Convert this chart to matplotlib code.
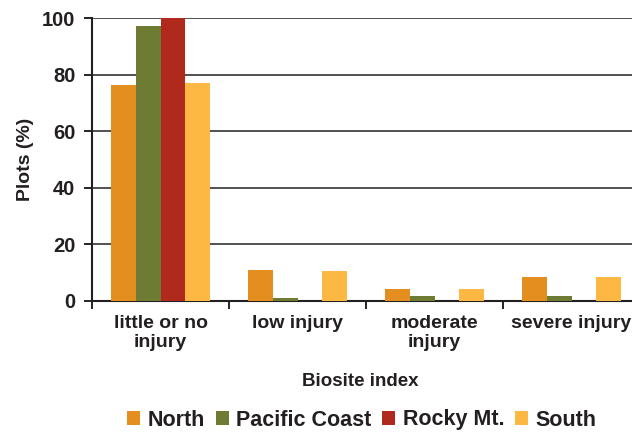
import matplotlib.pyplot as plt
import matplotlib.transforms as mtransforms
import numpy as np

plt.rcParams['font.family'] = ['Liberation Sans', 'DejaVu Sans']
plt.rcParams['font.weight'] = 'bold'

categories = ['little or no\ninjury', 'low injury', 'moderate\ninjury', 'severe injury']
regions = ['North', 'Pacific Coast', 'Rocky Mt.', 'South']
north = [76.3, 11.0, 4.2, 8.5]
pacific = [97.2, 1.0, 1.9, 1.9]
rocky = [100.0, 0.0, 0.0, 0.0]
south = [77.0, 10.6, 4.2, 8.5]
colors = ['#E38E1E', '#6E7B32', '#B0291D', '#FDB844']

fig = plt.figure(figsize=(6.32, 4.32), dpi=100)
ax = fig.add_axes([92 / 632, 1 - 301 / 432, 548 / 632, 283 / 432])

x = np.arange(len(categories))
w = 0.182
for i, (vals, lab) in enumerate(zip([north, pacific, rocky, south], regions)):
    ax.bar(x + (i - 1.5) * w, vals, w, color=colors[i], label=lab, zorder=3)

ax.set_ylim(0, 100)
ax.set_xlim(-0.5, 3.5)
ax.set_yticks([0, 20, 40, 60, 80, 100])
ax.yaxis.grid(True, color='#333333', linewidth=1.2, zorder=0)
ax.set_xticks(x)
ax.set_xticklabels(categories, fontsize=14, fontweight='bold', color='#231F20', linespacing=1.15)
# labels sit a bit left of the category centres in the original
shift = mtransforms.ScaledTranslation(-4 / 100, 0, fig.dpi_scale_trans)
for t in ax.get_xticklabels():
    t.set_transform(t.get_transform() + shift)
ax.set_xticks([-0.5, 0.5, 1.5, 2.5], minor=True)
ax.tick_params(axis='x', which='major', length=0, pad=10)
ax.tick_params(axis='x', which='minor', length=6, width=1.2, direction='out')
ax.tick_params(axis='y', length=6, width=1.2, labelsize=14.5, labelcolor='#231F20', pad=6)
for t in ax.get_yticklabels():
    t.set_fontweight('bold')

for s in ['top', 'right']:
    ax.spines[s].set_visible(False)
ax.spines['left'].set_linewidth(1.5)
ax.spines['bottom'].set_linewidth(1.5)
ax.spines['left'].set_color('#231F20')
ax.spines['bottom'].set_color('#231F20')

ax.set_ylabel('Plots (%)', fontsize=14, fontweight='bold', color='#231F20', labelpad=6)
fig.text(360 / 632, 1 - 381 / 432, 'Biosite index', ha='center', va='center',
         fontsize=13.5, fontweight='bold', color='#231F20')

fig.legend(loc='center', bbox_to_anchor=(362 / 632, 1 - 420 / 432), ncol=4, frameon=False,
           prop={'size': 15.5, 'weight': 'bold'}, handlelength=0.6, handleheight=0.6,
           handletextpad=0.35, columnspacing=0.5, labelcolor='#231F20')

fig.savefig('out.png', dpi=100)
